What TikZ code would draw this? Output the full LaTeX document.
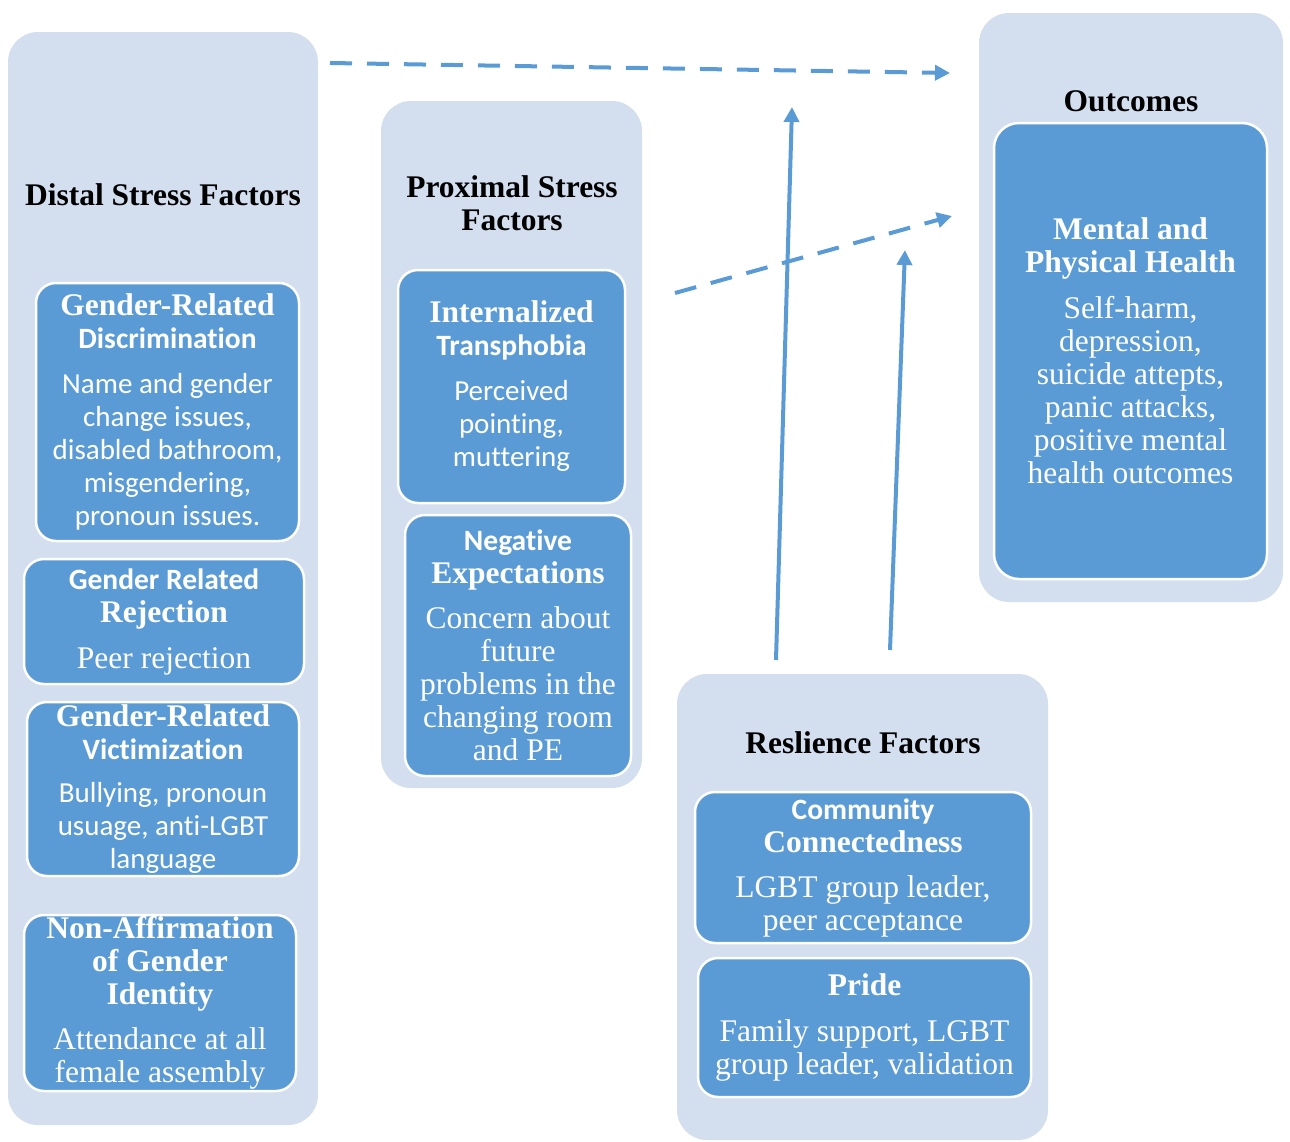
\documentclass[tikz,border=0pt]{standalone}
\usepackage{fontspec}
\setmainfont{Liberation Serif}
\newfontfamily\calfam[Ligatures=NoCommon]{Carlito}
\usetikzlibrary{arrows.meta}
\definecolor{panelblue}{RGB}{211,222,239}
\definecolor{boxblue}{RGB}{91,155,213}

% heading in sans bold, body text in sans
\newcommand\sansHead[1]{{\calfam\bfseries\fontsize{29.5}{33}\selectfont #1}}
\newcommand\sansBody[1]{{\calfam\fontsize{29}{32.5}\selectfont #1}}

\tikzset{
  panel/.style={fill=panelblue, draw=none, rounded corners=30pt, inner sep=0pt},
  factorbox/.style={fill=boxblue, draw=white, line width=2.5pt, rounded corners=20pt,
    text=white, align=center, inner sep=0pt, font=\fontsize{31.5}{33}\selectfont},
  paneltitle/.style={font=\fontsize{31.5}{33}\selectfont\bfseries, align=center,
    text=black, inner sep=0pt},
  flow/.style={draw=boxblue, line width=4pt, -{Triangle[length=15pt,width=15pt]}},
  linkdash/.style={flow, dash pattern=on 22pt off 15pt},
}

\begin{document}
\begin{tikzpicture}[x=1pt, y=-1pt]
\useasboundingbox (0,0) rectangle (1290,1141);

% background panels
\node[panel, minimum width=310pt, minimum height=1093pt] (distal) at (163,578.5) {};
\node[panel, minimum width=261pt, minimum height=687pt] (proximal) at (511.5,444.5) {};
\node[panel, minimum width=371pt, minimum height=466pt] (resil) at (862.5,907) {};
\node[panel, minimum width=304pt, minimum height=589pt] (outc) at (1131,307.5) {};

% panel titles
\node[paneltitle] (distalT) at (163,195) {Distal Stress Factors};
\node[paneltitle] (proxT) at (512,203.5) {Proximal Stress\\Factors};
\node[paneltitle] (resilT) at (863,743) {Reslience Factors};
\node[paneltitle] (outcT) at (1131,101) {Outcomes};

% distal stress factors
\node[factorbox, minimum width=263pt, minimum height=258pt] (disc) at (167.5,412) {%
  {\bfseries Gender-Related}\\ \sansHead{Discrimination}\\[12pt]
  \sansBody{Name and gender}\\ \sansBody{change issues,}\\
  \sansBody{disabled bathroom,}\\ \sansBody{misgendering,}\\
  \sansBody{pronoun issues.}};
\node[factorbox, minimum width=280pt, minimum height=125pt] (rej) at (164,621.5) {%
  \sansHead{Gender Related}\\ {\bfseries Rejection}\\[13pt] Peer rejection};
\node[factorbox, minimum width=272pt, minimum height=174pt] (vict) at (163,789) {%
  {\bfseries Gender-Related}\\ \sansHead{Victimization}\\[10pt]
  \sansBody{Bullying, pronoun}\\ \sansBody{usuage, anti-LGBT}\\
  \sansBody{language}};
\node[factorbox, minimum width=272pt, minimum height=176pt] (nonaff) at (160,1003) {%
  {\bfseries Non-Affirmation}\\ {\bfseries of Gender}\\ {\bfseries Identity}\\[12pt]
  Attendance at all\\ female assembly};

% proximal stress factors
\node[factorbox, minimum width=227pt, minimum height=233pt] (intern) at (511.5,386.5) {%
  {\bfseries Internalized}\\ \sansHead{Transphobia}\\[12pt]
  \sansBody{Perceived}\\ \sansBody{pointing,}\\ \sansBody{muttering}};
\node[factorbox, minimum width=226pt, minimum height=261pt] (negexp) at (518,645.5) {%
  \sansHead{Negative}\\ {\bfseries Expectations}\\[12pt]
  Concern about\\ future\\ problems in the\\ changing room\\ and PE};

% resilience factors
\node[factorbox, minimum width=336pt, minimum height=151pt] (comm) at (863,867.5) {%
  \sansHead{Community}\\ {\bfseries Connectedness}\\[12pt]
  LGBT group leader,\\ peer acceptance};
\node[factorbox, minimum width=333pt, minimum height=139pt] (pride) at (864.5,1027.5) {%
  {\bfseries Pride}\\[13pt] Family support, LGBT\\ group leader, validation};

% outcomes
\node[factorbox, minimum width=273pt, minimum height=456pt, rounded corners=25pt] (health) at (1130.5,351) {%
  {\bfseries Mental and}\\ {\bfseries Physical Health}\\[13pt]
  Self-harm,\\ depression,\\ suicide attepts,\\ panic attacks,\\
  positive mental\\ health outcomes};

% arrow ends
\coordinate (d1s) at (330,63);
\coordinate (d1e) at (950,73);
\coordinate (d2s) at (675,293);
\coordinate (d2e) at (952,216);
\coordinate (r1s) at (776,660);
\coordinate (r1e) at (792,107);
\coordinate (r2s) at (890,650);
\coordinate (r2e) at (905,250);

% connectors
\draw[linkdash] (d1s) -- (d1e);
\draw[linkdash] (d2s) -- (d2e);
\draw[flow] (r1s) -- (r1e);
\draw[flow] (r2s) -- (r2e);
\end{tikzpicture}
\end{document}
